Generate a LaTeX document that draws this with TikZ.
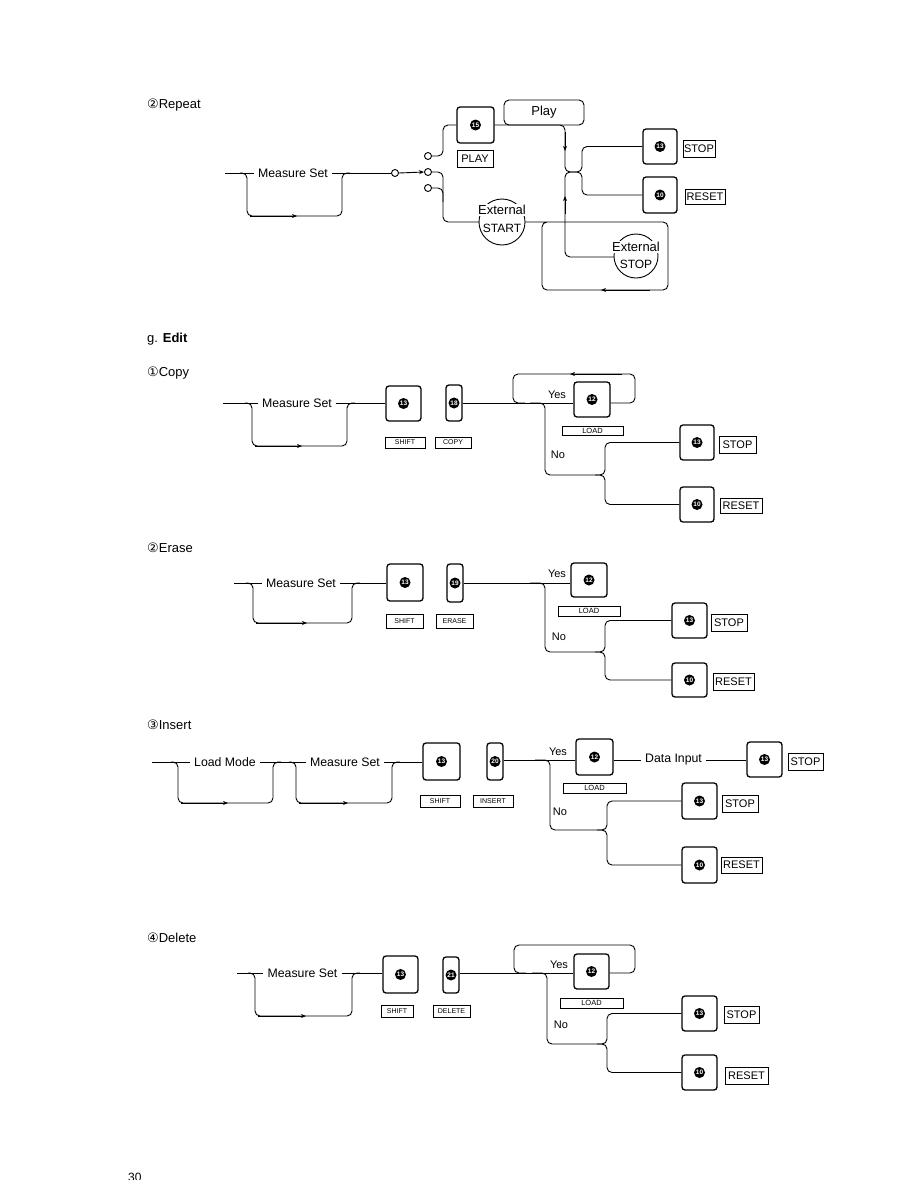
\documentclass[tikz,border=0pt]{standalone}
\usepackage{fontspec}
\setmainfont{Liberation Sans}
\newfontfamily\dejavu{DejaVu Sans}
\usetikzlibrary{arrows.meta}
\newcommand\fs[1]{\fontsize{#1}{#1}\selectfont}
\tikzset{
 conn/.style={line width=0.9pt, rounded corners=5pt},
 key/.style={draw, line width=1.3pt, rounded corners=3pt, inner sep=0pt, fill=white},
 numdot/.style={circle, fill=black, text=white, inner sep=0pt, minimum size=11pt, font=\fs{6.5}\bfseries},
 labl/.style={draw, line width=0.9pt, inner sep=0pt},
 txt/.style={inner sep=4pt, font=\fs{12.3}},
 small/.style={inner sep=0pt, font=\fs{11}},
 arr/.style={line width=0.9pt, -{Stealth[length=5pt,width=4pt]}},
 sdot/.style={circle, draw, line width=0.9pt, fill=white, inner sep=0pt, minimum size=7pt},
 head/.style={anchor=west, inner sep=0pt, font=\fs{13}},
 extc/.style={circle, draw, line width=0.9pt, fill=white, inner sep=0pt},
}
\newcommand\keyb[6]{\node[key, minimum width={#4-#2}, minimum height={#5-#3}] (#1) at ({(#2+#4)/2},{(#3+#5)/2}) {};
 \node[numdot] (#1n) at (#1.center) {#6};}
\newcommand\labb[7]{\node[labl, minimum width={#4-#2}, minimum height={#5-#3}, font=#7] (#1) at ({(#2+#4)/2},{(#3+#5)/2}) {#6};}
\begin{document}
\begin{tikzpicture}[x=1pt,y=-1pt]
\useasboundingbox (0,0) rectangle (921,1191);
\fill[white] (0,0) rectangle (921,1191);

% ================= Repeat =================
\node[head] (hrep) at (147,105) {{\dejavu ②}Repeat};
\coordinate (r0) at (225,173);
\node[txt] (rms) at (293,173) {Measure Set};
\draw[conn] (r0) -- (rms.west);
\draw[conn] (240,173) -- (247,173) -- (247,216) -- (342,216) -- (342,173) -- (350,173);
\draw[arr] (250,216) -- (297,216);
\node[sdot] (c1) at (395,173) {};
\node[sdot] (c2) at (428,172) {};
\node[sdot] (cu) at (428,156) {};
\node[sdot] (cl) at (428,188) {};
\draw[conn] (rms.east) -- (c1.west);
\draw[arr] (c1.east) -- (c2.west);
\keyb{k15}{457}{107}{494}{143}{15}
\labb{lplay}{457}{150}{493}{167}{PLAY}{\fs{11}}
\draw[conn] (cu.east) -- (443,156) -- (443,125) -- (k15.west);
\node[draw, line width=0.9pt, rounded corners=5pt, minimum width=80pt, minimum height=25pt, inner sep=0pt, font=\fs{13}] (play) at (544,112.5) {Play};
\keyb{k13r}{643}{129}{677}{164}{13}
\labb{lstopr}{683}{140}{715}{157}{STOP}{\fs{11}}
\keyb{k10r}{643}{177}{677}{213}{10}
\labb{lresr}{685}{189}{725}{204}{RESET}{\fs{11}}
\coordinate (J1) at (565,172);
\coordinate (J2) at (565,222);
\draw[conn] (k15.east) -- (565,125) -- (J1) -- (582,172) -- (582,146.5) -- (k13r.west);
\draw[conn] (J2) -- (J1) -- (582,172) -- (582,195) -- (k10r.west);
\draw[arr] (565,132) -- (565,151);
\draw[arr] (565,214) -- (565,196);
\draw[conn] (c2.east) -- (443,172) -- (443,222) -- (480,222);
\draw[conn] (cl.east) -- (443,188) -- (443,202);
\draw[conn] (510,222) -- (668,222) -- (668,290) -- (542,290) -- (542,222) -- (552,222);
\draw[arr] (650,290) -- (601,290);
\node[extc, minimum size=46pt] (startc) at (502,222) {};
\node[inner sep=1pt, fill=white, font=\fs{13}] (startt1) at (502,210) {External};
\node[inner sep=0pt, font=\fs{12}] (startt2) at (502,228) {START};
\draw[conn] (J2) -- (565,257) -- (614,257);
\node[extc, minimum size=44pt] (stopc) at (636,256) {};
\node[inner sep=1pt, fill=white, font=\fs{13}] (stopt1) at (636,247) {External};
\node[inner sep=0pt, font=\fs{12}] (stopt2) at (636,264) {STOP};

% ================= Edit / Copy =================
\node[head] (hedit) at (147,339) {g. \textbf{Edit}};
\node[head] (hcopy) at (147,373) {{\dejavu ①}Copy};
\coordinate (c0) at (223,403);
\node[txt] (cms) at (297,403) {Measure Set};
\draw[conn] (c0) -- (cms.west);
\draw[conn] (245,403) -- (252,403) -- (252,446) -- (347,446) -- (347,403) -- (355,403);
\draw[arr] (255,446) -- (302,446);
\keyb{k13c}{386}{386}{421}{421}{13}
\keyb{k18c}{446}{385}{462}{421}{18}
\labb{lshc}{385}{437}{425}{448}{SHIFT}{\fs{7}}
\labb{lcpc}{435}{437}{471}{448}{COPY}{\fs{7}}
\draw[conn] (cms.east) -- (k13c.west |- cms.east);
\keyb{k12c}{574}{382}{610}{417}{12}
\draw[conn] (k18c.east) -- (k12c.west |- k18c.east);
\node[small] (yesc) at (557,395) {Yes};
\draw[conn] (k12c.east |- k18c.east) -- (635,403) -- (635,374) -- (513,374) -- (513,403) -- (525,403);
\draw[arr] (622,374) -- (570,374);
\labb{lldc}{562}{426}{623}{435}{LOAD}{\fs{7.5}}
\keyb{k13cs}{680}{425}{714}{460}{13}
\labb{lstopc}{719}{436}{756}{453}{STOP}{\fs{11}}
\keyb{k10cs}{680}{487}{714}{522}{10}
\labb{lresc}{720}{498}{762}{513}{RESET}{\fs{11}}
\draw[conn] (530,403) -- (545,403) -- (545,475) -- (605,475) -- (605,442.5) -- (k13cs.west);
\draw[conn] (595,475) -- (605,475) -- (605,504.5) -- (k10cs.west);
\node[small] (noc) at (558,455) {No};

% ================= Erase =================
\node[head] (herase) at (147,548) {{\dejavu ②}Erase};
\coordinate (e0) at (234,583);
\node[txt] (ems) at (301,583) {Measure Set};
\draw[conn] (e0) -- (ems.west);
\draw[conn] (246,583) -- (253,583) -- (253,623) -- (352,623) -- (352,583) -- (360,583);
\draw[arr] (256,623) -- (307,623);
\keyb{k13e}{387}{564}{423}{601}{13}
\keyb{k19e}{447}{564}{463}{602}{19}
\labb{lshe}{386}{614}{423}{628}{SHIFT}{\fs{7}}
\labb{lere}{436}{614}{473}{628}{ERASE}{\fs{7}}
\draw[conn] (ems.east) -- (k13e.west |- ems.east);
\keyb{k12e}{571}{563}{607}{597}{12}
\draw[conn] (k19e.east) -- (k12e.west |- k19e.east);
\node[small] (yese) at (557,574) {Yes};
\labb{llde}{558}{606}{620}{616}{LOAD}{\fs{7.5}}
\keyb{k13es}{672}{603}{707}{638}{13}
\labb{lstope}{711}{614}{747}{631}{STOP}{\fs{11}}
\keyb{k10es}{672}{663}{707}{697}{10}
\labb{lrese}{713}{673}{754}{690}{RESET}{\fs{11}}
\draw[conn] (530,583) -- (545,583) -- (545,652) -- (605,652) -- (605,620.5) -- (k13es.west);
\draw[conn] (595,652) -- (605,652) -- (605,680) -- (k10es.west);
\node[small] (noe) at (559,637) {No};

% ================= Insert =================
\node[head] (hins) at (147,725) {{\dejavu ③}Insert};
\coordinate (i0) at (152,762);
\node[txt] (ilm) at (225,762) {Load Mode};
\node[txt] (ims) at (345,762) {Measure Set};
\draw[conn] (i0) -- (ilm.west);
\draw[conn] (ilm.east) -- (ims.west);
\draw[conn] (171,762) -- (178,762) -- (178,803) -- (273,803) -- (273,762) -- (281,762);
\draw[arr] (181,803) -- (228,803);
\draw[conn] (289,762) -- (296,762) -- (296,803) -- (392,803) -- (392,762) -- (400,762);
\draw[arr] (299,803) -- (348,803);
\keyb{k13i}{423}{743}{460}{780}{13}
\keyb{k20i}{487}{743}{503}{780}{20}
\labb{lshi}{420}{795}{460}{807}{SHIFT}{\fs{7}}
\labb{linsi}{473}{795}{513}{807}{INSERT}{\fs{7}}
\draw[conn] (ims.east) -- (k13i.west |- ims.east);
\keyb{k12i}{576}{739}{613}{775}{12}
\draw[conn] (k20i.east |- 0,760) -- (k12i.west |- 0,760);
\node[small] (yesi) at (558,752) {Yes};
\node[txt] (idata) at (673.5,760) {Data Input};
\keyb{k13id}{747}{742}{782}{777}{13}
\labb{lstopid}{788}{753}{823}{770}{STOP}{\fs{11}}
\draw[conn] (k12i.east |- 0,760) -- (idata.west);
\draw[conn] (idata.east) -- (k13id.west |- idata.east);
\labb{lldi}{563}{783}{626}{793}{LOAD}{\fs{7.5}}
\keyb{k13is}{682}{783}{717}{819}{13}
\labb{lstopi}{722}{795}{758}{812}{STOP}{\fs{11}}
\keyb{k10is}{682}{847}{717}{883}{10}
\labb{lresi}{721}{857}{762}{873}{RESET}{\fs{11}}
\draw[conn] (535,760) -- (550,760) -- (550,830) -- (607,830) -- (607,801) -- (k13is.west);
\draw[conn] (597,830) -- (607,830) -- (607,865) -- (k10is.west);
\node[small] (noi) at (560,812) {No};

% ================= Delete =================
\node[head] (hdel) at (147,938) {{\dejavu ④}Delete};
\coordinate (d0) at (237,973);
\node[txt] (dms) at (302.5,973) {Measure Set};
\draw[conn] (d0) -- (dms.west);
\draw[conn] (248,973) -- (255,973) -- (255,1016) -- (352,1016) -- (352,973) -- (360,973);
\draw[arr] (258,1016) -- (306,1016);
\keyb{k13d}{383}{956}{418}{993}{13}
\keyb{k21d}{443}{957}{459}{993}{21}
\labb{lshd}{381}{1005}{413}{1017}{SHIFT}{\fs{7}}
\labb{ldeld}{433}{1005}{470}{1017}{DELETE}{\fs{7}}
\draw[conn] (dms.east) -- (k13d.west |- dms.east);
\keyb{k12d}{574}{954}{609}{989}{12}
\draw[conn] (k21d.east |- 0,973) -- (k12d.west |- 0,973);
\node[small] (yesd) at (559,965) {Yes};
\draw[conn] (k12d.east |- 0,973) -- (635,973) -- (635,945) -- (514,945) -- (514,973) -- (526,973);
\labb{lldd}{560}{998}{623}{1008}{LOAD}{\fs{7.5}}
\keyb{k13ds}{682}{996}{717}{1031}{13}
\labb{lstopd}{724}{1006}{759}{1023}{STOP}{\fs{11}}
\keyb{k10ds}{682}{1055}{717}{1090}{10}
\labb{lresd}{725}{1067}{768}{1084}{RESET}{\fs{11}}
\draw[conn] (532,973) -- (547,973) -- (547,1044) -- (607,1044) -- (607,1013.5) -- (k13ds.west);
\draw[conn] (597,1044) -- (607,1044) -- (607,1072.5) -- (k10ds.west);
\node[small] (nod) at (561,1025) {No};

% page number (cut off)
\begin{scope}
\clip (0,0) rectangle (921,1179);
\node[anchor=north west, inner sep=0pt, font=\fs{12}] (pg) at (128,1173) {30};
\end{scope}
\end{tikzpicture}
\end{document}
